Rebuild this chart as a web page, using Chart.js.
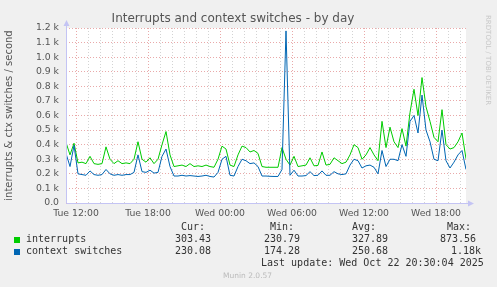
<!DOCTYPE html>
<html>
<head>
<meta charset="utf-8">
<title>Interrupts and context switches - by day</title>
<script src="https://cdn.jsdelivr.net/npm/chart.js@4.4.1/dist/chart.umd.min.js"></script>
<style>
  html, body { margin: 0; padding: 0; background: #f0f0f0; }
  #wrap { position: relative; width: 497px; height: 287px; overflow: hidden; }
  #irqChart { position: absolute; left: 0; top: 0; }
  .mono { position: absolute; font-family: "DejaVu Sans Mono", monospace; font-size: 10px; line-height: 12px; color: #333; white-space: pre; }
  .swatch { position: absolute; width: 6px; height: 6px; }
  #munin { position: absolute; left: 223px; top: 271px; font-family: "DejaVu Sans", sans-serif; font-size: 7.5px; color: #bbb; }
  #rrd { position: absolute; left: 484px; top: 15px; writing-mode: vertical-rl; font-family: "DejaVu Sans", sans-serif; font-size: 7px; color: #c8c8c8; }
</style>
</head>
<body>
<div id="wrap">
  <canvas id="irqChart" width="497" height="287"></canvas>
  <div id="rrd">RRDTOOL / TOBI OETIKER</div>
  <div class="mono" style="left:181px;top:221px">Cur:</div>
  <div class="mono" style="left:270px;top:221px">Min:</div>
  <div class="mono" style="left:352px;top:221px">Avg:</div>
  <div class="mono" style="left:447px;top:221px">Max:</div>
  <div class="swatch" style="left:14px;top:237px;background:#00cc00"></div>
  <div class="mono" style="left:26px;top:233px">interrupts</div>
  <div class="mono" style="left:175px;top:233px">303.43</div>
  <div class="mono" style="left:264px;top:233px">230.79</div>
  <div class="mono" style="left:352px;top:233px">327.89</div>
  <div class="mono" style="left:440px;top:233px">873.56</div>
  <div class="swatch" style="left:14px;top:249px;background:#0066b3"></div>
  <div class="mono" style="left:26px;top:245px">context switches</div>
  <div class="mono" style="left:175px;top:245px">230.08</div>
  <div class="mono" style="left:264px;top:245px">174.28</div>
  <div class="mono" style="left:352px;top:245px">250.68</div>
  <div class="mono" style="left:451px;top:245px">1.18k</div>
  <div class="mono" style="left:261px;top:257px">Last update: Wed Oct 22 20:30:04 2025</div>
  <div id="munin">Munin 2.0.57</div>
</div>
<script>
// time axis: minutes counted from Tue 00:00, one sample every 20 minutes
const startMinute = 670;   // Tue 11:10
const stepMinutes = 20;
const endMinute = 2670;    // Wed 20:30

const majorTicks = [720, 1080, 1440, 1800, 2160, 2520];
const majorLabels = ['Tue 12:00', 'Tue 18:00', 'Wed 00:00', 'Wed 06:00', 'Wed 12:00', 'Wed 18:00'];

const interrupts = [
  415, 330, 410, 275, 280, 270, 320, 270, 265, 270,
  385, 300, 270, 290, 270, 275, 270, 300, 420, 300,
  280, 310, 270, 300, 400, 490, 330, 250, 255, 260,
  250, 270, 250, 255, 250, 260, 250, 245, 300, 390,
  370, 260, 250, 330, 390, 380, 350, 360, 340, 250,
  245, 245, 245, 245, 380, 300, 260, 320, 250, 255,
  260, 310, 255, 258, 350, 260, 265, 310, 290, 270,
  280, 330, 400, 380, 300, 330, 380, 330, 290, 560,
  380, 520, 420, 380, 510, 390, 620, 780, 600, 860,
  660, 560, 450, 420, 640, 400, 370, 380, 420, 480,
  303
];

const contextSwitches = [
  340, 250, 395, 200, 195, 190, 220, 195, 190, 195,
  230, 200, 190, 195, 190, 195, 195, 210, 330, 215,
  210, 225, 205, 210, 320, 370, 250, 185, 185, 190,
  185, 188, 185, 182, 185, 190, 182, 178, 210, 300,
  320, 190, 185, 250, 300, 290, 270, 275, 250, 185,
  185, 183, 182, 182, 230, 1180, 190, 225, 185, 185,
  188, 215, 188, 190, 220, 190, 190, 215, 200, 195,
  200, 260, 300, 290, 240, 255, 260, 245, 200, 360,
  250, 300, 300, 290, 400, 320, 560, 600, 480, 740,
  500, 420, 300, 290, 500, 290, 240, 280, 330, 360,
  230
];

function toPoints(values) {
  return values.map((v, i) => ({ x: startMinute + i * stepMinutes, y: v }));
}

// hourly grid lines, the 6-hour ones get labels
const hourTicks = [];
for (let m = 720; m <= 2640; m += 60) hourTicks.push(m);

const MAJOR = 'rgba(225, 140, 140, 0.75)';
const MINOR = 'rgba(200, 200, 200, 0.8)';
const AXIS = '#c4c4f4';

const muninFrame = {
  id: 'muninFrame',
  beforeDraw(chart) {
    const { ctx, chartArea: a } = chart;
    ctx.save();
    ctx.fillStyle = '#f0f0f0';
    ctx.fillRect(0, 0, chart.width, chart.height);
    ctx.fillStyle = '#ffffff';
    ctx.fillRect(a.left, a.top, a.right - a.left, a.bottom - a.top);
    ctx.restore();
  },
  afterDraw(chart) {
    const { ctx, chartArea: a } = chart;
    const x0 = a.left + 0.5, y0 = a.bottom + 0.5;
    ctx.save();
    ctx.strokeStyle = AXIS;
    ctx.fillStyle = AXIS;
    ctx.lineWidth = 1;
    ctx.beginPath();
    ctx.moveTo(x0, y0); ctx.lineTo(x0, a.top - 4);
    ctx.moveTo(x0, y0); ctx.lineTo(a.right + 4, y0);
    ctx.stroke();
    ctx.beginPath();
    ctx.moveTo(x0, a.top - 8); ctx.lineTo(x0 - 3, a.top - 2); ctx.lineTo(x0 + 3, a.top - 2); ctx.closePath();
    ctx.moveTo(a.right + 8, y0); ctx.lineTo(a.right + 2, y0 - 3); ctx.lineTo(a.right + 2, y0 + 3); ctx.closePath();
    ctx.fill();
    ctx.restore();
  }
};

const ctx = document.getElementById('irqChart').getContext('2d');
const irqChart = new Chart(ctx, {
  type: 'line',
  data: {
    datasets: [
      {
        label: 'interrupts',
        data: toPoints(interrupts),
        borderColor: '#00cc00',
        borderWidth: 1,
        pointRadius: 0,
        tension: 0,
        order: 1
      },
      {
        label: 'context switches',
        data: toPoints(contextSwitches),
        borderColor: '#0066b3',
        borderWidth: 1,
        pointRadius: 0,
        tension: 0,
        order: 0
      }
    ]
  },
  options: {
    responsive: false,
    animation: false,
    devicePixelRatio: 1,
    layout: { padding: { left: 0, right: 31, top: 0, bottom: 64 } },
    plugins: {
      legend: { display: false },
      tooltip: { enabled: false },
      title: {
        display: true,
        text: 'Interrupts and context switches - by day',
        color: '#555',
        font: { family: 'DejaVu Sans', size: 12, weight: 'normal' },
        padding: { top: 11.5, bottom: 2.1 }
      }
    },
    scales: {
      x: {
        type: 'linear',
        min: startMinute,
        max: endMinute,
        afterBuildTicks: (scale) => { scale.ticks = hourTicks.map(v => ({ value: v })); },
        afterFit: (scale) => { scale.height = 20; },
        grid: {
          color: (c) => (c.tick && majorTicks.includes(c.tick.value)) ? MAJOR : MINOR,
          drawTicks: false
        },
        border: { display: false, dash: [1, 2] },
        ticks: {
          autoSkip: false,
          maxRotation: 0,
          padding: 5,
          color: '#555',
          font: { family: 'DejaVu Sans', size: 9.3 },
          callback: (v) => {
            const k = majorTicks.indexOf(v);
            return k >= 0 ? majorLabels[k] : '';
          }
        }
      },
      y: {
        min: 0,
        max: 1200,
        afterFit: (scale) => { scale.width = 66; },
        grid: { color: MAJOR, drawTicks: false },
        border: { display: false, dash: [1, 2] },
        ticks: {
          stepSize: 100,
          padding: 7,
          color: '#555',
          font: { family: 'DejaVu Sans', size: 9.3 },
          callback: (v) => v === 0 ? '0.0' : (v / 1000).toFixed(1) + ' k'
        },
        title: {
          display: true,
          text: 'interrupts & ctx switches / second',
          color: '#555',
          font: { family: 'DejaVu Sans', size: 10 },
          padding: { top: 3, bottom: 0 }
        }
      }
    }
  },
  plugins: [muninFrame]
});
</script>
</body>
</html>
